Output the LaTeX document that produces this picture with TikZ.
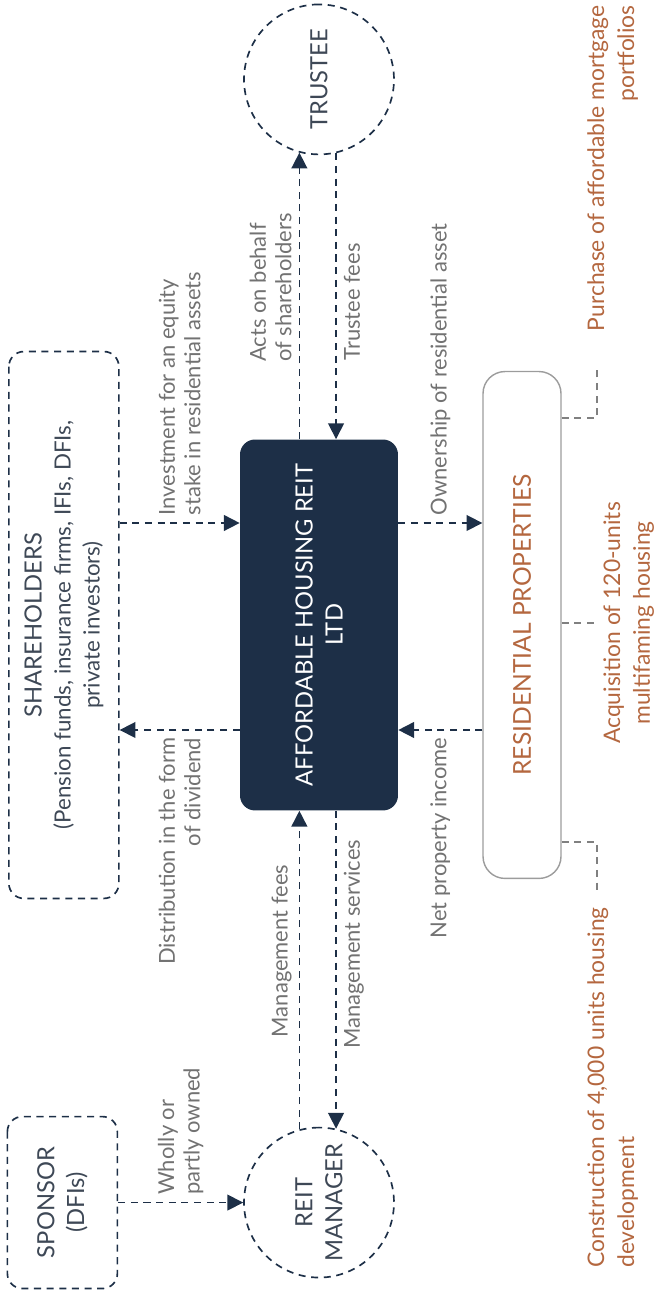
\documentclass[tikz,border=0pt]{standalone}
\usepackage{fontspec}
\setmainfont{Lato}
\usetikzlibrary{positioning,arrows.meta}

\definecolor{navy}{HTML}{1D2F47}
\definecolor{labelgrey}{HTML}{727272}
\definecolor{inkgrey}{HTML}{3E4856}
\definecolor{rust}{HTML}{B4673F}
\definecolor{boxgrey}{HTML}{9C9C9C}

\tikzset{
  dashline/.style={dash pattern=on 4pt off 3.2pt, line width=0.95pt},
  party/.style={draw=navy, dashline, rounded corners=0.3cm, text=inkgrey, align=center,
    font=\fontsize{13.5}{17}\selectfont},
  ring/.style={circle, draw=navy, dashline, minimum size=3cm, inner sep=0pt, text=inkgrey,
    align=center, font=\fontsize{13.5}{17}\selectfont},
  hub/.style={fill=navy, rounded corners=0.3cm, minimum width=7.42cm, minimum height=3.16cm,
    text=white, align=center, font=\fontsize{13.5}{17}\selectfont},
  assets/.style={draw=boxgrey, line width=0.8pt, rounded corners=0.44cm, minimum width=10.14cm,
    minimum height=1.56cm, text=rust, font=\fontsize{14}{17}\selectfont},
  project/.style={text=rust, inner sep=0pt, font=\fontsize{13}{17}\selectfont},
  lbl/.style={text=labelgrey, inner sep=4pt, font=\fontsize{12.5}{14.5}\selectfont},
  flow/.style={draw=navy, dashline, -{Triangle[length=9pt,width=9pt]}},
  tick/.style={draw=gray, dashline},
}

\begin{document}
\begin{tikzpicture}
\begin{scope}[x=0.02cm, y=0.02cm, rotate=90, transform shape]
\useasboundingbox (0,0) rectangle (1290,654);

% Nodes

\node[hub] (reit) at (665,335) {AFFORDABLE HOUSING REIT\\LTD};
\node[party, font=\fontsize{12.7}{16.5}\selectfont, minimum width=10.94cm, minimum height=2.2cm, above=2.4cm of reit] (holders) {{\fontsize{13.5}{16.5}\selectfont SHAREHOLDERS}\\(Pension funds, insurance firms, IFIs, DFIs,\\private investors)};
\node[ring, left=6.32cm of reit] (manager) {REIT\\MANAGER};
\node[ring, right=5.68cm of reit] (trustee) {TRUSTEE};
\node[party, minimum width=3.44cm, minimum height=2.2cm, above=2.5cm of manager] (sponsor) {SPONSOR\\(DFIs)};
\node[assets, below=1.68cm of reit] (props) {RESIDENTIAL PROPERTIES};

% Projects

\node[project, anchor=north west, align=left] (build) at (22,67) {Construction of 4,000 units housing\\development};
\node[project, anchor=north, align=center] (buy) at (667,51) {Acquisition of 120-units\\multifaming housing};
\node[project, anchor=north east, align=right] (mortgage) at (1285,67) {Purchase of affordable mortgage\\portfolios};

% Edges

\coordinate (inv) at (767,0);
\coordinate (div) at (560,0);

\draw[flow] (sponsor) -- node[lbl, right, align=left] {Wholly or\\partly owned} (manager);
\draw[flow] (holders.south -| inv) -- node[lbl, right, align=left] {Investment for an equity\\stake in residential assets} (reit.north -| inv);
\draw[flow] (reit.north -| div) -- node[lbl, left, align=right] {Distribution in the form\\of dividend} (holders.south -| div);
\draw[flow] (reit.south -| inv) -- node[lbl, right] {Ownership of residential asset} (props.north -| inv);
\draw[flow] (props.north -| div) -- node[lbl, left] {Net property income} (reit.south -| div);

\draw[flow] (manager.15) -- node[lbl, above, pos=0.56] {Management fees} (reit.west |- manager.15);
\draw[flow] (reit.west |- manager.-13) -- node[lbl, below, pos=0.42] {Management services} (manager.-13);
\draw[flow] (reit.east |- trustee.165) -- node[lbl, above, pos=0.53, align=left] {Acts on behalf\\of shareholders} (trustee.165);
\draw[flow] (trustee.193) -- node[lbl, below, pos=0.52] {Trustee fees} (reit.east |- trustee.193);

% Links to projects

\coordinate (t1) at (448,57);
\coordinate (t1e) at (400,57);
\coordinate (t2) at (667,57);
\coordinate (t3) at (872,57);
\coordinate (t3e) at (920,57);
\draw[tick] (props.south -| t1) -- (t1) -- (t1e);
\draw[tick] (props.south -| t2) -- (t2);
\draw[tick] (props.south -| t3) -- (t3) -- (t3e);

\end{scope}
\end{tikzpicture}
\end{document}
